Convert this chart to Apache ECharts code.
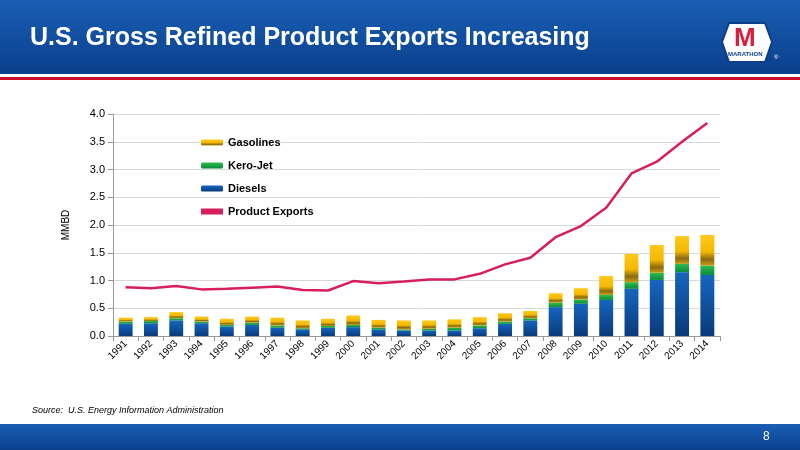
<!DOCTYPE html><html><head><meta charset="utf-8"><script src="https://cdn.jsdelivr.net/npm/echarts@6/dist/echarts.min.js"></script>
<style>body{margin:0}#c{width:800px;height:450px}</style></head><body><div id="c"></div><script>
const years=['1991','1992','1993','1994','1995','1996','1997','1998','1999','2000','2001','2002','2003','2004','2005','2006','2007','2008','2009','2010','2011','2012','2013','2014'];
const diesels=[0.22,0.23,0.28,0.23,0.17,0.20,0.15,0.12,0.15,0.16,0.12,0.10,0.10,0.10,0.14,0.22,0.28,0.52,0.58,0.65,0.85,1.01,1.15,1.10];
const keroJet=[0.04,0.04,0.04,0.03,0.03,0.04,0.04,0.02,0.03,0.04,0.03,0.02,0.03,0.05,0.05,0.04,0.04,0.08,0.08,0.09,0.12,0.13,0.15,0.17];
const gasolines=[0.07,0.07,0.11,0.09,0.11,0.11,0.14,0.14,0.13,0.17,0.14,0.16,0.15,0.15,0.15,0.15,0.13,0.17,0.20,0.34,0.51,0.50,0.50,0.55];
const productExports=[0.88,0.86,0.90,0.84,0.85,0.87,0.89,0.83,0.82,0.99,0.95,0.98,1.02,1.02,1.12,1.29,1.41,1.78,1.98,2.31,2.93,3.14,3.50,3.84];
const g=(a,b)=>new echarts.graphic.LinearGradient(0,0,0,1,[{offset:0,color:a},{offset:1,color:b}]);
const gold=new echarts.graphic.LinearGradient(0,0,0,1,[{offset:0,color:'#ffc81a'},{offset:0.55,color:'#f5b800'},{offset:0.8,color:'#8a6a12'},{offset:1,color:'#c89a10'}]);
const F='Liberation Sans, Arial, sans-serif';
const ch=echarts.init(document.getElementById('c'));
ch.setOption({
 animation:false,
 graphic:[
  {type:'rect',shape:{x:0,y:0,width:800,height:74},style:{fill:g('#1a5fb4','#0a3f8c')}},
  {type:'rect',shape:{x:0,y:74,width:800,height:3},style:{fill:'#ffffff'}},
  {type:'rect',shape:{x:0,y:77,width:800,height:3},style:{fill:'#c8102e'}},
  {type:'text',left:30,top:26,style:{text:'U.S. Gross Refined Product Exports Increasing',fill:'#fff',font:'bold 25px '+F}},
  {type:'polygon',shape:{points:[[729,23],[765,23],[772,42],[765,62],[729,62],[722,42]]},style:{fill:'#fff',stroke:'#0a3f8c',lineWidth:2}},
  {type:'text',left:734,top:26,style:{text:'M',fill:'#d81e3c',font:'bold 26px '+F}},
  {type:'text',left:728,top:51,style:{text:'MARATHON',fill:'#0a3f8c',font:'bold 6px '+F}},
  {type:'text',left:774,top:54,style:{text:'®',fill:'#fff',font:'6px '+F}},
  {type:'rect',shape:{x:0,y:424,width:800,height:26},style:{fill:g('#1a5fb4','#0a3f8c')}},
  {type:'text',left:763,top:431,style:{text:'8',fill:'#fff',font:'12px '+F}},
  {type:'text',left:32,top:406,style:{text:'Source:  U.S. Energy Information Administration',fill:'#000',font:'italic 9px '+F}}
 ],
 legend:{orient:'vertical',left:196,top:132,itemGap:12,itemWidth:22,itemHeight:6,textStyle:{fontFamily:F,fontSize:11,fontWeight:'bold',color:'#000'},
  data:['Gasolines','Kero-Jet','Diesels',{name:'Product Exports',icon:'rect',itemStyle:{color:'#d81e5b'}}]},
 grid:{left:113,right:80,top:114,bottom:114},
 xAxis:{type:'category',data:years,axisTick:{show:true,lineStyle:{color:'#999'}},axisLine:{lineStyle:{color:'#999'}},
  axisLabel:{rotate:45,color:'#000',fontFamily:F,fontSize:10,margin:6,interval:0}},
 yAxis:{type:'value',min:0,max:4,interval:0.5,name:'MMBD',nameLocation:'middle',nameGap:42,nameTextStyle:{fontFamily:F,fontSize:10,color:'#000'},
  axisLine:{show:true,lineStyle:{color:'#999'}},axisTick:{show:true,lineStyle:{color:'#999'}},
  axisLabel:{color:'#000',fontFamily:F,fontSize:11,formatter:v=>v.toFixed(1)},splitLine:{lineStyle:{color:'#d9d9d9'}}},
 series:[
  {name:'Diesels',type:'bar',stack:'a',data:diesels,barWidth:'55%',itemStyle:{color:g('#1565c0','#0a3a7a')}},
  {name:'Kero-Jet',type:'bar',stack:'a',data:keroJet,itemStyle:{color:g('#2ebd4e','#0a8a3a')}},
  {name:'Gasolines',type:'bar',stack:'a',data:gasolines,itemStyle:{color:gold}},
  {name:'Product Exports',type:'line',data:productExports,symbol:'none',lineStyle:{color:'#d81e5b',width:2.5},itemStyle:{color:'#d81e5b'}}
 ]
});
</script></body></html>
